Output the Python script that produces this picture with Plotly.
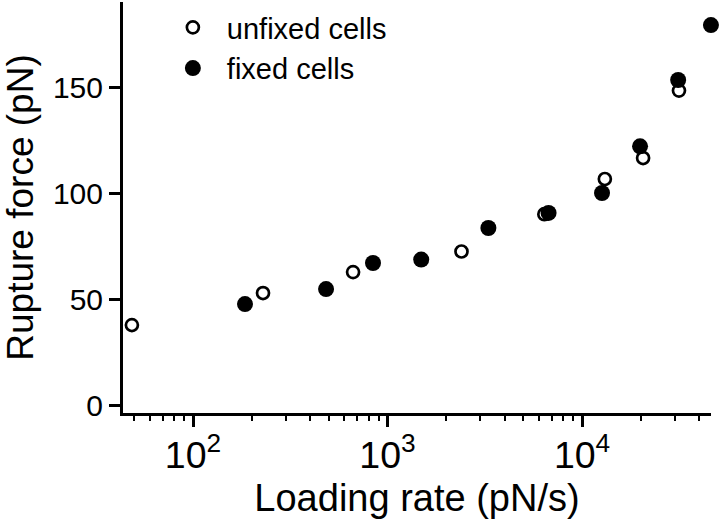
import plotly.graph_objects as go

# Data
unfixed_rate = [48.5, 229, 665, 2400, 6400, 13100, 20600, 31500]
unfixed_force = [37.7, 52.8, 62.7, 72.4, 90.0, 106.6, 116.5, 148.3]

fixed_rate = [185, 483, 842, 1490, 3300, 6730, 12670, 19870, 31200, 46000]
fixed_force = [47.6, 54.7, 67.0, 68.6, 83.5, 90.6, 100.0, 122.0, 153.3, 179.2]

series_names = ["unfixed cells", "fixed cells"]
y_ticks = [0, 50, 100, 150]

FONT = "Liberation Sans, Arial, Helvetica, sans-serif"

fig = go.Figure()
fig.add_trace(go.Scatter(
    x=unfixed_rate, y=unfixed_force, mode="markers", name=series_names[0],
    cliponaxis=False,
    marker=dict(symbol="circle-open", size=12, color="black",
                line=dict(width=2.7, color="black")),
))
fig.add_trace(go.Scatter(
    x=fixed_rate, y=fixed_force, mode="markers", name=series_names[1],
    cliponaxis=False,
    marker=dict(symbol="circle", size=16, color="black",
                line=dict(width=0)),
))

fig.update_layout(
    width=720, height=519,
    margin=dict(l=123, r=9, t=2, b=106),
    paper_bgcolor="white", plot_bgcolor="white",
    font=dict(family=FONT, color="black"),
    showlegend=True,
    legend=dict(x=0.061, y=1.0, xanchor="left", yanchor="top",
                font=dict(size=29, family=FONT), bgcolor="rgba(0,0,0,0)",
                tracegroupgap=0, itemsizing="trace", itemwidth=58),
    xaxis=dict(
        type="log", range=[1.640, 4.663],
        showline=True, linewidth=3, linecolor="black",
        ticks="outside", ticklen=11, tickwidth=2.5, tickcolor="black",
        dtick=1, exponentformat="power",
        tickfont=dict(size=30, family=FONT),
        ticklabelstandoff=-3,
        showgrid=False, zeroline=False,
        minor=dict(ticks="outside", ticklen=5, tickwidth=2, tickcolor="black",
                   dtick="D1", showgrid=False),
        title=dict(text="Loading rate (pN/s)", font=dict(size=38, family=FONT),
                   standoff=10),
    ),
    yaxis=dict(
        range=[-3.77, 190.1],
        showline=True, linewidth=3, linecolor="black",
        ticks="outside", ticklen=11, tickwidth=2.5, tickcolor="black",
        tickvals=y_ticks,
        tickfont=dict(size=30, family=FONT),
        showgrid=False, zeroline=False,
        title=dict(text="Rupture force (pN)", font=dict(size=37, family=FONT),
                   standoff=8),
    ),
)

fig.write_html("out.html",
               config={"displayModeBar": False},
               post_script="document.body.style.margin='0';document.body.style.padding='0';")
